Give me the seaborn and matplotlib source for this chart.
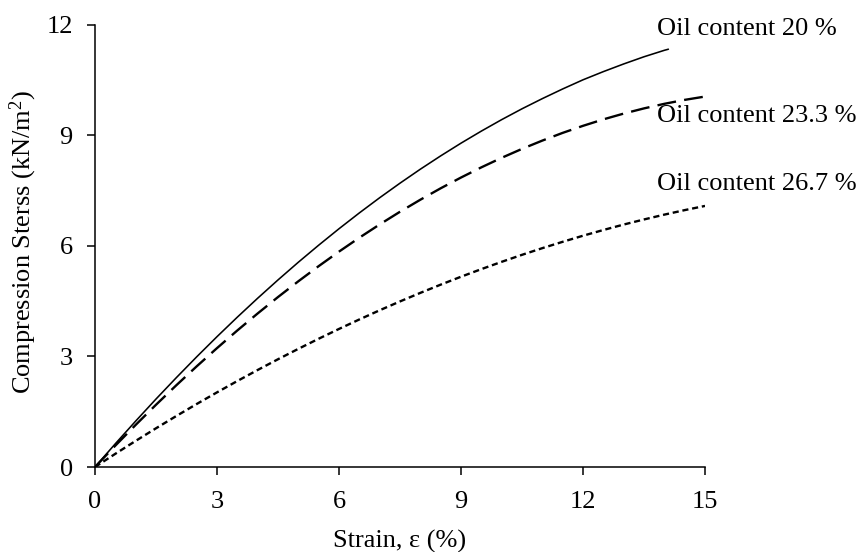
import matplotlib
matplotlib.use("Agg")
import matplotlib.pyplot as plt
import seaborn as sns
import pandas as pd

# Data
strain_20 = [0, 0.5, 1, 1.5, 2, 2.5, 3, 3.5, 4, 4.5, 5, 5.5, 6, 6.5, 7, 7.5, 8,
             8.5, 9, 9.5, 10, 10.5, 11, 11.5, 12, 12.5, 13, 13.5, 14, 14.1]
stress_20 = [0, 0.631, 1.245, 1.843, 2.423, 2.987, 3.534, 4.064, 4.577, 5.073,
             5.553, 6.015, 6.461, 6.890, 7.302, 7.697, 8.076, 8.437, 8.782,
             9.109, 9.42, 9.714, 9.99, 10.252, 10.50, 10.722, 10.93, 11.125,
             11.30, 11.33]
strain_233 = [0, 0.5, 1, 1.5, 2, 2.5, 3, 3.5, 4, 4.5, 5, 5.5, 6, 6.5, 7, 7.5, 8,
              8.5, 9, 9.5, 10, 10.5, 11, 11.5, 12, 12.5, 13, 13.5, 14, 14.5, 15]
stress_233 = [0, 0.580, 1.142, 1.688, 2.217, 2.729, 3.224, 3.703, 4.164, 4.609,
              5.036, 5.447, 5.841, 6.218, 6.578, 6.922, 7.248, 7.558, 7.850,
              8.126, 8.385, 8.627, 8.852, 9.061, 9.252, 9.427, 9.584, 9.725,
              9.849, 9.956, 10.046]
strain_267 = [0, 0.5, 1, 1.5, 2, 2.5, 3, 3.5, 4, 4.5, 5, 5.5, 6, 6.5, 7, 7.5, 8,
              8.5, 9, 9.5, 10, 10.5, 11, 11.5, 12, 12.5, 13, 13.5, 14, 14.5, 15]
stress_267 = [0, 0.358, 0.708, 1.050, 1.383, 1.708, 2.024, 2.332, 2.631, 2.922,
              3.204, 3.478, 3.744, 4.001, 4.250, 4.490, 4.722, 4.945, 5.160,
              5.366, 5.564, 5.754, 5.935, 6.107, 6.272, 6.427, 6.575, 6.713,
              6.844, 6.966, 7.080]
labels = ["Oil content 20 %", "Oil content 23.3 %", "Oil content 26.7 %"]
x_ticks = [0, 3, 6, 9, 12, 15]
y_ticks = [0, 3, 6, 9, 12]

sns.set_theme(style="ticks")
plt.rcParams["font.family"] = ["Liberation Serif", "DejaVu Serif"]
plt.rcParams["mathtext.fontset"] = "custom"
plt.rcParams["mathtext.rm"] = "Liberation Serif"
plt.rcParams["mathtext.it"] = "Liberation Serif:italic"

FS = 19

fig = plt.figure(figsize=(8.58, 5.52), dpi=100)
ax = fig.add_axes([95 / 858, 85 / 552, 610 / 858, 442.5 / 552])

styles = [("-", 1.15), ((0, (8, 3.5)), 1.7), ((0, (2.6, 1.6)), 1.7)]
data = [(strain_20, stress_20), (strain_233, stress_233), (strain_267, stress_267)]
for (xs, ys), (ls, lw), lab in zip(data, styles, labels):
    df = pd.DataFrame({"strain": xs, "stress": ys})
    sns.lineplot(data=df, x="strain", y="stress", ax=ax, color="black",
                 linewidth=lw, linestyle=ls, sort=True)

# Annotations
label_y = [11.87, 9.51, 7.67]
for lab, yy in zip(labels, label_y):
    ax.text(13.82, yy, lab, fontsize=FS, va="center", ha="left",
            color="black", clip_on=False)

ax.set_xlim(0, 15)
ax.set_ylim(0, 12)
ax.set_xticks(x_ticks)
ax.set_yticks(y_ticks)
ax.tick_params(axis="both", direction="out", length=5.5, width=1.1,
               labelsize=FS, colors="black")
ax.tick_params(axis="x", pad=12)
ax.tick_params(axis="y", pad=10.5)
for s in ["top", "right"]:
    ax.spines[s].set_visible(False)
for s in ["left", "bottom"]:
    ax.spines[s].set_linewidth(1.1)
    ax.spines[s].set_color("black")

ax.set_xlabel("Strain, ε (%)", fontsize=FS, color="black")
ax.set_ylabel("Compression Sterss (kN/m$^{2}$)", fontsize=FS, color="black")
ax.xaxis.set_label_coords(0.5, (467 - 530) / 442.5)
ax.yaxis.set_label_coords((39 - 95) / 610, 0.508)

fig.savefig("out.png", dpi=100)
